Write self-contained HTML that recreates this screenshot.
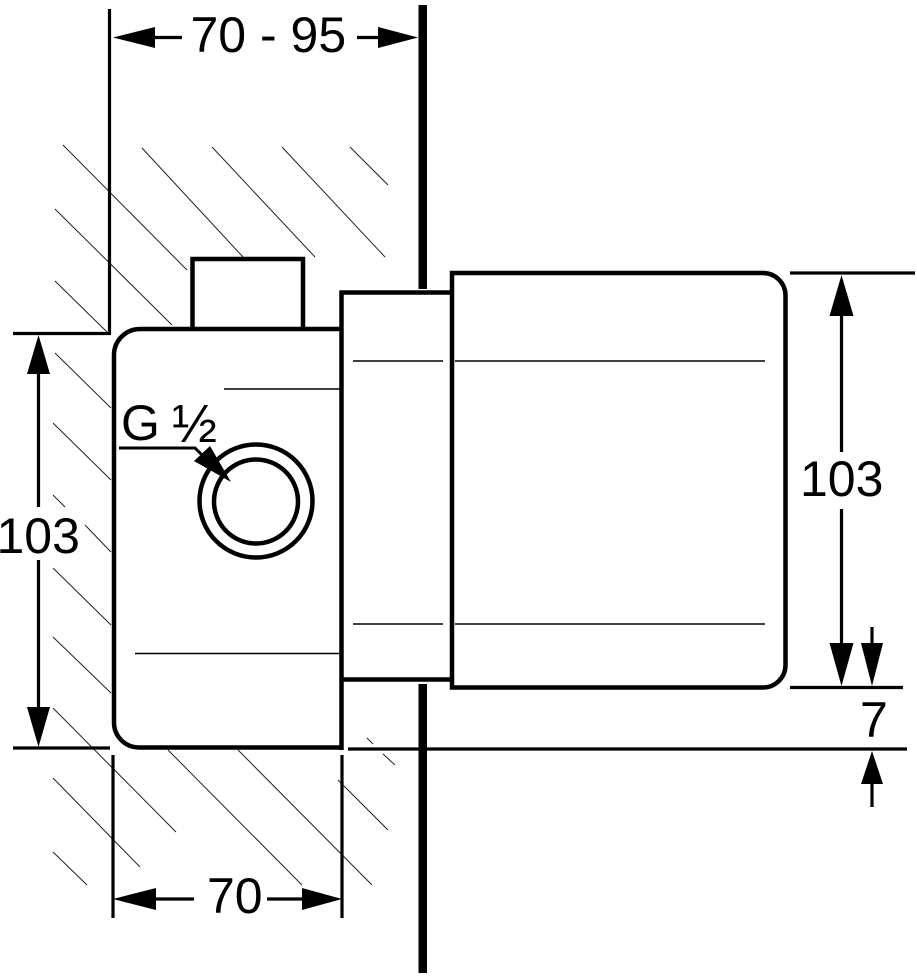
<!DOCTYPE html>
<html>
<head>
<meta charset="utf-8">
<style>
html,body{margin:0;padding:0;background:#fff;}
svg{display:block;}
text{font-family:"Liberation Sans",Arial,sans-serif;font-size:50px;fill:#000;}
</style>
</head>
<body>
<svg width="917" height="976" viewBox="0 0 917 976" xmlns="http://www.w3.org/2000/svg">
<rect x="0" y="0" width="917" height="976" fill="#fff"/>

<!-- hatching -->
<g stroke="#222" stroke-width="1" fill="none">
<path d="M63,145L187,270 M142,148L243,257 M212,147L315,257 M282,147L385,257 M350,147L388,185 M55,209L172,325 M55,281L107,332"/>
<path d="M55,353L111,408 M53,423L111,480 M53,495L65,507 M85,525L111,552 M53,568L111,625 M53,637L111,693 M53,708L176,832 M53,778L140,867 M53,852L87,885"/>
<path d="M168,750L302,885 M238,750L372,885 M338,780L388,830 M367,738L373,744 M383,754L395,765"/>
</g>

<!-- wall -->
<rect x="418.5" y="5" width="8.5" height="284" fill="#000"/>
<rect x="418.5" y="684" width="8.5" height="289" fill="#000"/>

<!-- extension / dimension lines -->
<g stroke="#000" stroke-width="3.2" fill="none">
<line x1="109.5" y1="9" x2="109.5" y2="334"/>
<line x1="155" y1="37.5" x2="182" y2="37.5"/>
<line x1="357" y1="37.5" x2="380" y2="37.5"/>
<line x1="13" y1="333.5" x2="111" y2="333.5"/>
<line x1="13" y1="748" x2="110" y2="748"/>
<line x1="38.5" y1="372" x2="38.5" y2="507"/>
<line x1="38.5" y1="560" x2="38.5" y2="709"/>
<line x1="113" y1="755" x2="113" y2="918"/>
<line x1="342" y1="755" x2="342" y2="918"/>
<line x1="155" y1="899" x2="194" y2="899"/>
<line x1="267" y1="899" x2="303" y2="899"/>
<line x1="790" y1="273" x2="915" y2="273"/>
<line x1="790" y1="687.5" x2="903" y2="687.5"/>
<line x1="348" y1="749" x2="907" y2="749"/>
<line x1="841.5" y1="314" x2="841.5" y2="452"/>
<line x1="841.5" y1="509" x2="841.5" y2="645"/>
<line x1="872" y1="627" x2="872" y2="645"/>
<line x1="872" y1="782" x2="872" y2="807"/>
</g>

<!-- arrowheads -->
<g fill="#000">
<polygon points="113,37.5 155,27 155,48"/>
<polygon points="418,37.5 378,27 378,48"/>
<polygon points="38.5,335 27,374 50,374"/>
<polygon points="38.5,747 27,707 50,707"/>
<polygon points="113,899 156,888 156,910"/>
<polygon points="342,899 302,888 302,910"/>
<polygon points="841.5,275 829.5,316 853.5,316"/>
<polygon points="841.5,686 829.5,643 853.5,643"/>
<polygon points="872,686 861,643 883,643"/>
<polygon points="872,751 861,784 883,784"/>
</g>

<!-- body -->
<g stroke="#000" stroke-width="4.5" fill="none">
<path d="M343,329 H140 A26,26 0 0 0 114,355 V722.5 A25,25 0 0 0 139,747.5 H343"/>
<line x1="341.5" y1="290.5" x2="341.5" y2="750"/>
<path d="M192.5,329 V259 H303 V329"/>
<line x1="339.5" y1="292.5" x2="453" y2="292.5"/>
<line x1="339.5" y1="679.5" x2="453" y2="679.5"/>
<path d="M452,273 H763 A22.5,22.5 0 0 1 785.5,295.5 V665 A22.5,22.5 0 0 1 763,687.5 H452 Z"/>
<circle cx="256" cy="501" r="56.5"/>
<circle cx="256" cy="501.5" r="42"/>
</g>

<!-- thin inner lines -->
<g stroke="#000" stroke-width="1.5" fill="none">
<line x1="353" y1="361" x2="443" y2="361"/>
<line x1="455" y1="361" x2="765" y2="361"/>
<line x1="353" y1="624" x2="443" y2="624"/>
<line x1="455" y1="624" x2="765" y2="624"/>
<line x1="224" y1="389" x2="340" y2="389"/>
<line x1="135" y1="653.5" x2="340" y2="653.5"/>
</g>

<!-- G 1/2 leader -->
<g stroke="#000" stroke-width="3" fill="none">
<polyline points="119,448 195,448 205,458"/>
</g>
<polygon points="194,461 210,446 231,482" fill="#000"/>

<!-- texts -->
<text x="190.5" y="52">70 - 95</text>
<text x="-3.5" y="553">103</text>
<text x="800" y="496">103</text>
<text x="860" y="737">7</text>
<text x="207" y="913">70</text>
<text x="121" y="440">G</text>
<text x="172" y="442" style="font-size:54px">½</text>
</svg>
</body>
</html>
